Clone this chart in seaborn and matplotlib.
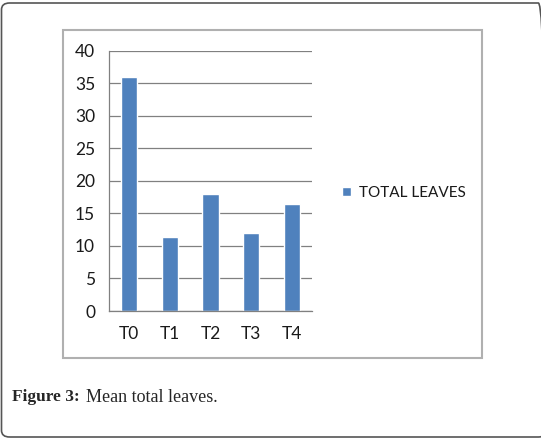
import matplotlib
matplotlib.use("Agg")
import matplotlib.pyplot as plt
import seaborn as sns
import pandas as pd
from matplotlib.patches import FancyBboxPatch, Rectangle

# data
treatments = ["T0", "T1", "T2", "T3", "T4"]
total_leaves = [36.0, 11.3, 18.0, 12.0, 16.4]

sns.set_style("white")
plt.rcParams["font.family"] = ["Lato", "DejaVu Sans"]

df = pd.DataFrame({"Treatment": treatments, "Leaves": total_leaves})

fig = plt.figure(figsize=(5.41, 4.40), dpi=100)
W, H = 541, 440

# outer rounded frame and inner chart frame
fig.add_artist(FancyBboxPatch((1.5 / W, 3 / H), 545 / W, 434 / H,
                              boxstyle="round,pad=0,rounding_size=0.015",
                              transform=fig.transFigure, fill=False,
                              edgecolor="#555555", linewidth=1.2))
fig.add_artist(Rectangle((62.5 / W, 1 - 358 / H), 420 / W, 328 / H,
                         transform=fig.transFigure, fill=False,
                         edgecolor="#b0b0b0", linewidth=1.5))

ax = fig.add_axes([109 / W, 1 - 311 / H, 203 / W, 260.3 / H])
sns.barplot(data=df, x="Treatment", y="Leaves", color="#4F81BD", width=0.4,
            saturation=1, label="TOTAL LEAVES", ax=ax)

ax.set_ylim(0, 40)
ax.set_yticks(range(0, 41, 5))
ax.set_xlim(-0.5, 4.5)
ax.yaxis.grid(True, color="#808080", linewidth=0.9)
ax.set_axisbelow(True)
ax.set_xlabel("")
ax.set_ylabel("")
for s in ["top", "right"]:
    ax.spines[s].set_visible(False)
for s in ["left", "bottom"]:
    ax.spines[s].set_color("#808080")
    ax.spines[s].set_linewidth(0.9)
ax.tick_params(axis="both", length=0, labelsize=12.5, colors="#1a1a1a")
ax.tick_params(axis="y", pad=10)
ax.tick_params(axis="x", pad=11)

leg = ax.legend(loc="center left", bbox_to_anchor=(328 / W, 1 - 193 / H),
                bbox_transform=fig.transFigure, frameon=False, fontsize=11,
                handlelength=0.6, handleheight=0.6, handletextpad=0.5)
for t in leg.get_texts():
    t.set_color("#1a1a1a")

fig.text(12 / W, 1 - 397 / H, "Figure 3:", fontfamily="Liberation Serif",
         fontweight="bold", fontsize=12.5, va="center", ha="left")
fig.text(86 / W, 1 - 397 / H, "Mean total leaves.", fontfamily="Liberation Serif",
         fontsize=13, va="center", ha="left")

fig.savefig("out.png", dpi=100)
